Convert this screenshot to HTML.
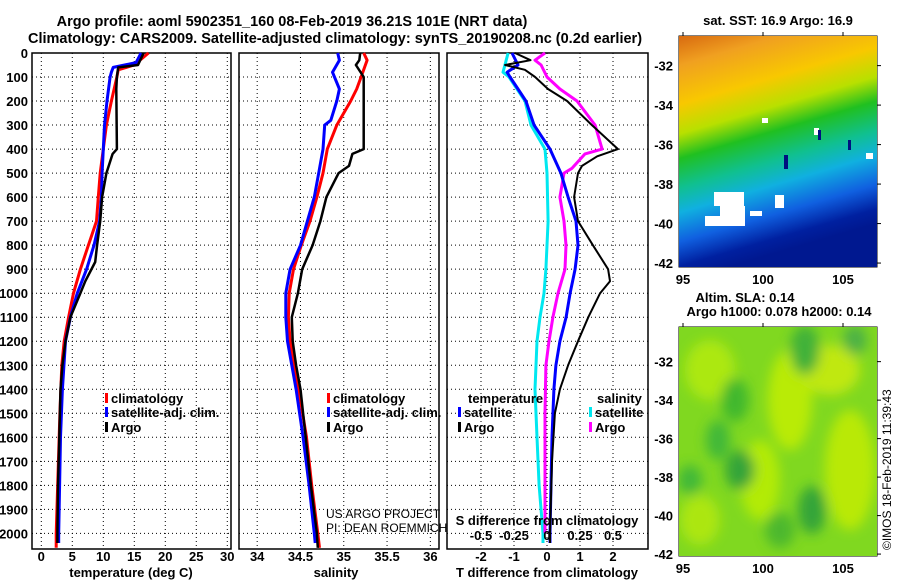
<!DOCTYPE html>
<html><head><meta charset="utf-8"><style>
html,body{margin:0;padding:0;background:#fff;}
svg{display:block;font-family:"Liberation Sans",Arial,sans-serif;}
.b{font-weight:bold;font-size:13px;fill:#000;}
</style></head><body>
<svg id="c" width="900" height="580" viewBox="0 0 900 580" xmlns="http://www.w3.org/2000/svg">
<defs>
<linearGradient id="sstg" x1="0" y1="0" x2="0.25" y2="1">
<stop offset="0" stop-color="#d86a10"/><stop offset="0.12" stop-color="#f0a020"/><stop offset="0.28" stop-color="#f8c800"/><stop offset="0.4" stop-color="#b8e000"/><stop offset="0.5" stop-color="#20c020"/><stop offset="0.62" stop-color="#10c090"/><stop offset="0.72" stop-color="#10b0e0"/><stop offset="0.84" stop-color="#1060e0"/><stop offset="0.94" stop-color="#0020a0"/><stop offset="1" stop-color="#001890"/>
</linearGradient>
<clipPath id="slaclip"><rect x="679" y="327" width="198" height="229"/></clipPath>
<filter id="blur"><feGaussianBlur stdDeviation="6"/></filter>
</defs>
<text class="b" x="292" y="26" text-anchor="middle" style="font-size:14.5px">Argo profile: aoml 5902351_160 08-Feb-2019 36.21S 101E (NRT data)</text>
<text class="b" x="335" y="43" text-anchor="middle" style="font-size:14.5px">Climatology: CARS2009. Satellite-adjusted climatology: synTS_20190208.nc (0.2d earlier)</text>
<g id="g"></g>
<text class="b" x="778" y="25" text-anchor="middle">sat. SST: 16.9 Argo: 16.9</text>
<g>
<rect x="679" y="36" width="198" height="231" fill="url(#sstg)"/>
<rect x="705" y="216" width="40" height="10" fill="#fff"/><rect x="720" y="206" width="25" height="10" fill="#fff"/><rect x="714" y="192" width="30" height="14" fill="#fff"/>
<rect x="775" y="195" width="9" height="13" fill="#fff"/><rect x="750" y="211" width="12" height="5" fill="#fff"/>
<rect x="762" y="118" width="6" height="5" fill="#fff"/><rect x="814" y="128" width="5" height="7" fill="#fff"/><rect x="866" y="153" width="7" height="6" fill="#fff"/>
<rect x="784" y="155" width="4" height="14" fill="#001080"/><rect x="818" y="130" width="3" height="10" fill="#001080"/><rect x="848" y="140" width="3" height="10" fill="#001080"/>
</g>
<text class="b" x="745" y="302" text-anchor="middle">Altim. SLA: 0.14</text>
<text class="b" x="779" y="316" text-anchor="middle">Argo h1000: 0.078 h2000: 0.14</text>
<g clip-path="url(#slaclip)">
<rect x="679" y="327" width="198" height="229" fill="#80d820"/>
<g opacity="0.8" filter="url(#blur)">
<ellipse cx="710" cy="370" rx="25" ry="30" fill="#b8ec10"/><ellipse cx="790" cy="400" rx="22" ry="50" fill="#c8f000"/><ellipse cx="760" cy="480" rx="20" ry="40" fill="#c0f000"/><ellipse cx="850" cy="470" rx="25" ry="60" fill="#c8ee00"/><ellipse cx="830" cy="370" rx="30" ry="25" fill="#d0ec10"/><ellipse cx="700" cy="520" rx="20" ry="25" fill="#b8ea10"/>
<ellipse cx="735" cy="400" rx="14" ry="22" fill="#30b030"/><ellipse cx="718" cy="440" rx="12" ry="20" fill="#30b040"/><ellipse cx="740" cy="470" rx="15" ry="20" fill="#209840"/><ellipse cx="812" cy="510" rx="14" ry="24" fill="#209840"/><ellipse cx="805" cy="350" rx="15" ry="25" fill="#30a840"/><ellipse cx="855" cy="340" rx="12" ry="15" fill="#40a850"/><ellipse cx="690" cy="480" rx="12" ry="15" fill="#30b040"/><ellipse cx="780" cy="530" rx="15" ry="18" fill="#40b030"/>
</g>
</g>
<text font-size="12" x="0" y="0" transform="translate(891,550) rotate(-90)">©IMOS 18-Feb-2019 11:39:43</text>
</svg>
<script>
// ---- data ----
const depthTicks=[0,100,200,300,400,500,600,700,800,900,1000,1100,1200,1300,1400,1500,1600,1700,1800,1900,2000];
const tempTicks=[0,5,10,15,20,25,30];
const salTicks=[34,34.5,35,35.5,36];
const salTickLabels=["34","34.5","35","35.5","36"];
const dTTicks=[-2,-1,0,1,2];
const dSTicks=[-0.5,-0.25,0,0.25,0.5];
const dSTickLabels=["-0.5","-0.25","0","0.25","0.5"];
const tempClim=[[0,17.3],[50,15],[70,12.4],[100,12.2],[200,11.3],[300,10.5],[400,10],[500,9.5],[600,9.2],[700,8.9],[800,7.6],[900,6.3],[1000,5.2],[1100,4.4],[1200,3.7],[1300,3.3],[1500,3.0],[2000,2.4],[2060,2.4]];
const tempSat=[[0,16.1],[40,15.3],[60,11.6],[80,11.3],[100,11.1],[200,10.6],[300,10.2],[400,10.0],[500,9.8],[600,9.7],[700,9.4],[800,8.5],[900,7.3],[1000,5.8],[1100,4.7],[1200,3.9],[1400,3.4],[1600,3.1],[2000,2.8],[2040,2.8]];
const tempArgo=[[0,16.5],[50,15.6],[60,12.4],[100,12.2],[150,12.1],[400,12.2],[420,11.5],[500,10.5],[600,9.8],[700,9.5],[800,9.0],[870,8.7],[950,7.1],[1000,6.3],[1100,4.7],[1200,3.9],[1300,3.4],[1400,3.1],[1600,2.9],[1800,2.7],[2000,2.6],[2040,2.6]];
const salClim=[[0,35.23],[30,35.27],[100,35.2],[150,35.15],[200,35.08],[300,34.92],[400,34.81],[500,34.76],[600,34.69],[700,34.61],[800,34.51],[900,34.42],[1000,34.37],[1100,34.36],[1200,34.38],[1300,34.43],[1400,34.48],[1600,34.57],[1800,34.63],[2000,34.70],[2060,34.72]];
const salSat=[[0,34.93],[30,34.95],[80,34.87],[150,34.95],[200,34.92],[280,34.85],[300,34.78],[400,34.76],[500,34.71],[600,34.66],[700,34.58],[800,34.5],[900,34.38],[1000,34.33],[1100,34.33],[1200,34.35],[1300,34.40],[1400,34.45],[1600,34.53],[1800,34.60],[2000,34.66],[2040,34.67]];
const salArgo=[[0,35.19],[30,35.18],[50,35.14],[100,35.23],[400,35.23],[420,35.1],[470,35.06],[500,34.94],[600,34.8],[700,34.73],[800,34.64],[900,34.52],[1000,34.47],[1100,34.4],[1200,34.41],[1300,34.45],[1400,34.5],[1600,34.56],[1800,34.62],[2000,34.69],[2060,34.70]];
const dTArgo=[[0,-0.97],[30,-0.5],[50,-1.27],[70,-0.67],[100,-0.36],[150,0.03],[200,0.61],[300,1.36],[400,2.15],[430,1.52],[470,1.06],[500,0.94],[600,0.82],[700,0.94],[800,1.39],[900,1.85],[950,1.91],[1000,1.61],[1100,1.25],[1200,0.94],[1300,0.64],[1400,0.39],[1500,0.24],[1700,0.15],[2000,0.09],[2040,0.09]];
const dTSat=[[0,-1.06],[50,-0.88],[80,-1.21],[100,-1.12],[150,-0.88],[200,-0.64],[300,-0.39],[400,0.09],[500,0.42],[600,0.64],[700,0.88],[800,0.94],[900,0.85],[1000,0.7],[1100,0.58],[1200,0.39],[1300,0.27],[1400,0.21],[1600,0.15],[2000,0.09],[2040,0.09]];
const dSSat=[[0,-0.295],[80,-0.333],[100,-0.288],[200,-0.167],[300,-0.121],[400,-0.015],[500,0],[700,0.008],[900,-0.008],[1000,-0.023],[1100,-0.053],[1200,-0.076],[1300,-0.083],[1400,-0.091],[1600,-0.076],[1800,-0.06],[2000,-0.03],[2040,-0.03]];
const dSArgo=[[0,-0.015],[30,-0.091],[50,-0.045],[100,0],[150,0.098],[200,0.227],[300,0.364],[400,0.417],[420,0.288],[480,0.189],[500,0.129],[600,0.098],[700,0.129],[800,0.144],[900,0.136],[1000,0.083],[1100,0.045],[1200,0.015],[1300,-0.008],[1500,-0.015],[2000,-0.015]];
const latTicks=[-32,-34,-36,-38,-40,-42];
const lonTicks=[95,100,105];

const NS="http://www.w3.org/2000/svg";
const G=document.getElementById('g');
function mk(tag,at,parent){const e=document.createElementNS(NS,tag);for(const k in at)e.setAttribute(k,at[k]);(parent||G).appendChild(e);return e;}
const yTop=53, yBot=549, dMax=2065;
const yD=d=>yTop+(yBot-yTop)*d/dMax;
function panel(name,x0,x1,xmin,xmax){
  const sx=v=>x0+(x1-x0)*(v-xmin)/(xmax-xmin);
  const g=mk('g',{});
  
  
  return {g,sx};
}
function grid(p,x0,x1,xt){
  depthTicks.forEach(d=>{const l=mk('line',{x1:x0,x2:x1,y1:yD(d),y2:yD(d),stroke:'#000','stroke-dasharray':'1,3'},p.g);
    
    });
  xt.forEach(v=>{const l=mk('line',{x1:p.sx(v),x2:p.sx(v),y1:yTop,y2:yBot,stroke:'#000','stroke-dasharray':'1,3'},p.g);
    
    });
  const r=mk('rect',{x:x0,y:yTop,width:x1-x0,height:yBot-yTop,fill:'none',stroke:'#000','stroke-width':1.5},p.g);
  
  
}
function line(p,data,col,w,name,sx){
  const f=sx||p.sx;
  const pts=data.map(q=>f(q[1]).toFixed(1)+','+yD(q[0]).toFixed(1)).join(' ');
  const e=mk('polyline',{points:pts,fill:'none',stroke:col,'stroke-width':w,'stroke-linejoin':'round'},p.g);
  
  
}
function txt(s,x,y,anchor,name,cls,extra){
  const t=mk('text',Object.assign({x:x,y:y,'text-anchor':anchor||'start','class':cls===undefined?'b':cls},extra||{}));
  t.textContent=s;
  
  
  return t;
}
function legend(x,y,col,label,name){
  const r=mk('rect',{x:x,y:y-10,width:3,height:10,fill:col});
  
  
  txt(label,x+6,y,'start',name);
}
depthTicks.forEach(d=>txt(String(d),28,yD(d)+5,'end','depth-tick-label'));
// panel 1
const p1=panel('temperature-panel',32,231,-1.5,30.6);
grid(p1,32,231,tempTicks);
line(p1,tempClim,'#ff0000',3,'temperature-climatology-line');
line(p1,tempSat,'#0000ff',3,'temperature-satellite-line');
line(p1,tempArgo,'#000000',2.5,'temperature-argo-line');
tempTicks.forEach(v=>txt(String(v),p1.sx(v),561,'middle','temperature-tick-label'));
txt('temperature (deg C)',131,577,'middle','temperature-axis-title');
legend(105,403,'#ff0000','climatology','legend-climatology');
legend(105,417,'#0000ff','satellite-adj. clim.','legend-satellite');
legend(105,432,'#000000','Argo','legend-argo');
// panel 2
const p2=panel('salinity-panel',239,439,33.79,36.1);
grid(p2,239,439,salTicks);
line(p2,salClim,'#ff0000',3,'salinity-climatology-line');
line(p2,salSat,'#0000ff',3,'salinity-satellite-line');
line(p2,salArgo,'#000000',2.5,'salinity-argo-line');
salTicks.forEach((v,i)=>txt(salTickLabels[i],p2.sx(v),561,'middle','salinity-tick-label'));
txt('salinity',336,577,'middle','salinity-axis-title');
legend(327,403,'#ff0000','climatology','legend-climatology-2');
legend(327,417,'#0000ff','satellite-adj. clim.','legend-satellite-2');
legend(327,432,'#000000','Argo','legend-argo-2');
txt('US ARGO PROJECT',326,518,'start','project-credit','',{'font-size':12});
txt('PI: DEAN ROEMMICH',326,532,'start','pi-credit','',{'font-size':12});
// panel 3
const p3=panel('difference-panel',447,648,-3.03,3.06);
const sxS=v=>p3.sx(v*4);
grid(p3,447,648,dTTicks);
line(p3,dSSat,'#00e8f0',3,'salinity-diff-satellite-line',sxS);
line(p3,dSArgo,'#ff00ff',3,'salinity-diff-argo-line',sxS);
line(p3,dTSat,'#0000ff',3,'temperature-diff-satellite-line');
line(p3,dTArgo,'#000000',2,'temperature-diff-argo-line');
dTTicks.forEach(v=>txt(String(v),p3.sx(v),561,'middle','t-diff-tick-label'));
txt('T difference from climatology',547,577,'middle','t-diff-axis-title');
dSTicks.forEach((v,i)=>txt(dSTickLabels[i],sxS(v),540,'middle','s-diff-tick-label'));
txt('S difference from climatology',547,525,'middle','s-diff-axis-title');
txt('temperature',468,403,'start','legend-temperature-heading');
legend(458,417,'#0000ff','satellite','legend-t-satellite');
legend(458,432,'#000000','Argo','legend-t-argo');
txt('salinity',597,403,'start','legend-salinity-heading');
legend(589,417,'#00e8f0','satellite','legend-s-satellite');
legend(589,432,'#ff00ff','Argo','legend-s-argo');
// map axes
function mapAxes(x0,x1,y0,y1,latTop,latBot,name){
  const r=mk('rect',{x:x0,y:y0,width:x1-x0,height:y1-y0,fill:'none',stroke:'#000'});
  
  
  const sy=v=>y0+(y1-y0)*(latTop-v)/(latTop-latBot);
  const sx=v=>683+(v-95)*16;
  latTicks.forEach(v=>{txt(String(v),673,sy(v)+5,'end',name+'-lat-label');
    mk('line',{x1:x1,x2:x1+4,y1:sy(v),y2:sy(v),stroke:'#000'});});
  lonTicks.forEach(v=>{txt(String(v),sx(v),y1+17,'middle',name+'-lon-label');
    mk('line',{x1:sx(v),x2:sx(v),y1:y0-4,y2:y0,stroke:'#000'});});
}
mapAxes(679,877,36,267,-30.5,-42.2,'sst-map');
mapAxes(679,877,327,556,-30.2,-42.1,'sla-map');
</script>
</body></html>
